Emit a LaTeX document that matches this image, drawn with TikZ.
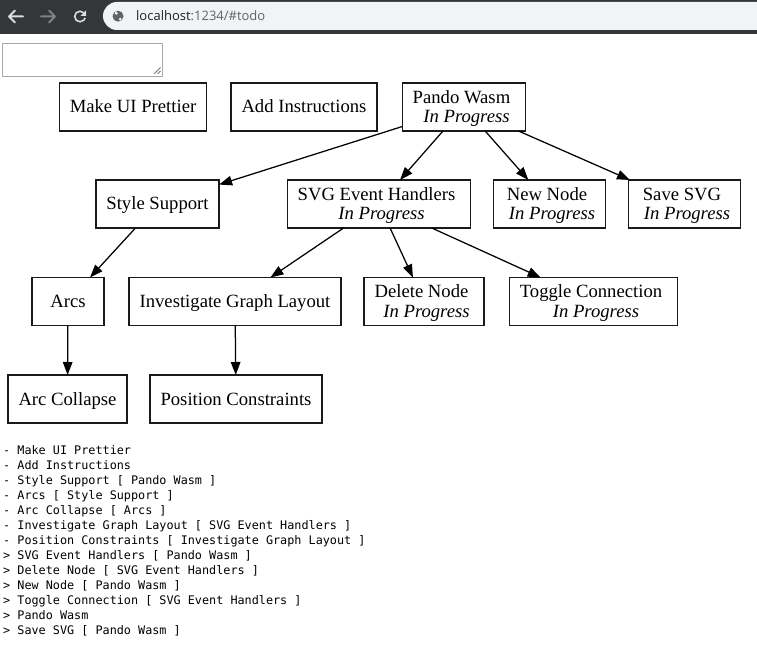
\documentclass[tikz,border=0pt]{standalone}
\usepackage{fontspec}
\usepackage{tikz}
\usetikzlibrary{arrows.meta}
\setmainfont{Liberation Serif}
\newfontfamily\listfont{DejaVu Sans Mono}
\newfontfamily\barfont{Open Sans}
\definecolor{barDark}{HTML}{35363A}
\definecolor{barPill}{HTML}{F1F3F4}
\definecolor{urlDark}{HTML}{202124}
\definecolor{urlGray}{HTML}{5F6368}
\definecolor{iconLight}{HTML}{DADCE0}
\definecolor{iconDim}{HTML}{808184}
\definecolor{fieldGray}{HTML}{A9A9A9}
\definecolor{gripGray}{HTML}{7A7A7A}
\definecolor{boxLine}{HTML}{1A1A1A}
\newcommand{\tpad}{\hbox to 5pt{}}
\newcommand{\inprog}{\\\tpad\textit{In Progress}}

\begin{document}
\begin{tikzpicture}[
  x=1pt, y=-1pt,
  task/.style={
    rectangle,
    draw=boxLine,
    line width=1.25pt,
    minimum width=72pt,
    minimum height=48pt,
    inner xsep=10.5pt,
    outer sep=0pt,
    text height=12pt,
    text depth=0pt,
    align=center,
    font=\fontsize{18.67}{19.5}\selectfont
  },
  doing/.style={task, text height=31.5pt},
  arrow/.style={-{Triangle[length=13pt, width=9.5pt]}, line width=1.25pt},
  listtext/.style={
    anchor=north west,
    inner sep=0pt,
    align=left,
    font=\listfont\fontsize{11.8}{15}\selectfont
  }
]
  \useasboundingbox (0,0) rectangle (757,652);
  \fill[white] (0,0) rectangle (757,652);

  % Browser bar
  \fill[barDark] (0,0) rectangle (757,34);
  \fill[barPill] (757,2) -- (117,2) arc[start angle=-90, end angle=-270, radius=14] -- (757,30) -- cycle;
  \draw[iconLight, line width=2pt, line cap=round, line join=round]
    (9,16.5) -- (23,16.5) (15,10.5) -- (9,16.5) -- (15,22.5);
  \draw[iconDim, line width=2pt, line cap=round, line join=round]
    (41,16.5) -- (55,16.5) (49,10.5) -- (55,16.5) -- (49,22.5);
  \draw[iconLight, line width=1.6pt] (80,16.5) ++(-45:5.3) arc[start angle=-45, end angle=-345, radius=5.3];
  \fill[iconLight] (80.5,16) -- (86.2,16) -- (86.2,10.3) -- cycle;
  \fill[urlGray] (118,16.2) circle[radius=5.5];
  \fill[barPill] (116.2,13.2) circle[radius=1.7];
  \fill[barPill] (120.2,19.2) circle[radius=1.5];
  \node[anchor=base west, inner sep=0pt, text=urlGray, font=\barfont\fontsize{13}{15}\selectfont]
    (url) at (136,20.8) {\textcolor{urlDark}{localhost}:1234/\#todo};

  % Text field
  \draw[fieldGray, line width=1pt] (2.5,43.5) rectangle (162,76.5);
  \draw[gripGray, line width=0.8pt] (154,74) -- (160.5,67.5) (157.5,74) -- (160.5,71);

  % Tasks
  \node[task] (make) at (133,107) {Make UI Prettier};
  \node[task] (instr) at (304,107) {Add Instructions};
  \node[doing] (pando) at (464,107) {Pando Wasm\tpad\inprog};

  \node[task] (style) at (157.5,204) {Style Support};
  \node[doing] (svg) at (379,204) {SVG Event Handlers\tpad\inprog};
  \node[doing] (newnode) at (549.5,204) {New Node\tpad\inprog};
  \node[doing] (savesvg) at (684.5,204) {Save SVG\tpad\inprog};

  \node[task] (arcs) at (68,301.5) {Arcs};
  \node[task] (layout) at (235,301.5) {Investigate Graph Layout};
  \node[doing] (delete) at (424,301.5) {Delete Node\tpad\inprog};
  \node[doing] (toggle) at (593.5,301.5) {Toggle Connection\tpad\inprog};

  \node[task] (collapse) at (67.5,399) {Arc Collapse};
  \node[task] (constraints) at (236,399) {Position Constraints};

  % Dependencies
  \draw[arrow] (pando) -- (style);
  \draw[arrow] (pando) -- (svg);
  \draw[arrow] (pando) -- (newnode);
  \draw[arrow] (pando) -- (savesvg);
  \draw[arrow] (style) -- (arcs);
  \draw[arrow] (svg) -- (layout);
  \draw[arrow] (svg) -- (delete);
  \draw[arrow] (svg) -- (toggle);
  \draw[arrow] (arcs) -- (collapse);
  \draw[arrow] (layout) -- (constraints);

  % Todo list
  \node[listtext] (todo) at (3,445.3) {%
    - Make UI Prettier\\
    - Add Instructions\\
    - Style Support [ Pando Wasm ]\\
    - Arcs [ Style Support ]\\
    - Arc Collapse [ Arcs ]\\
    - Investigate Graph Layout [ SVG Event Handlers ]\\
    - Position Constraints [ Investigate Graph Layout ]\\
    > SVG Event Handlers [ Pando Wasm ]\\
    > Delete Node [ SVG Event Handlers ]\\
    > New Node [ Pando Wasm ]\\
    > Toggle Connection [ SVG Event Handlers ]\\
    > Pando Wasm\\
    > Save SVG [ Pando Wasm ]};
\end{tikzpicture}
\end{document}
